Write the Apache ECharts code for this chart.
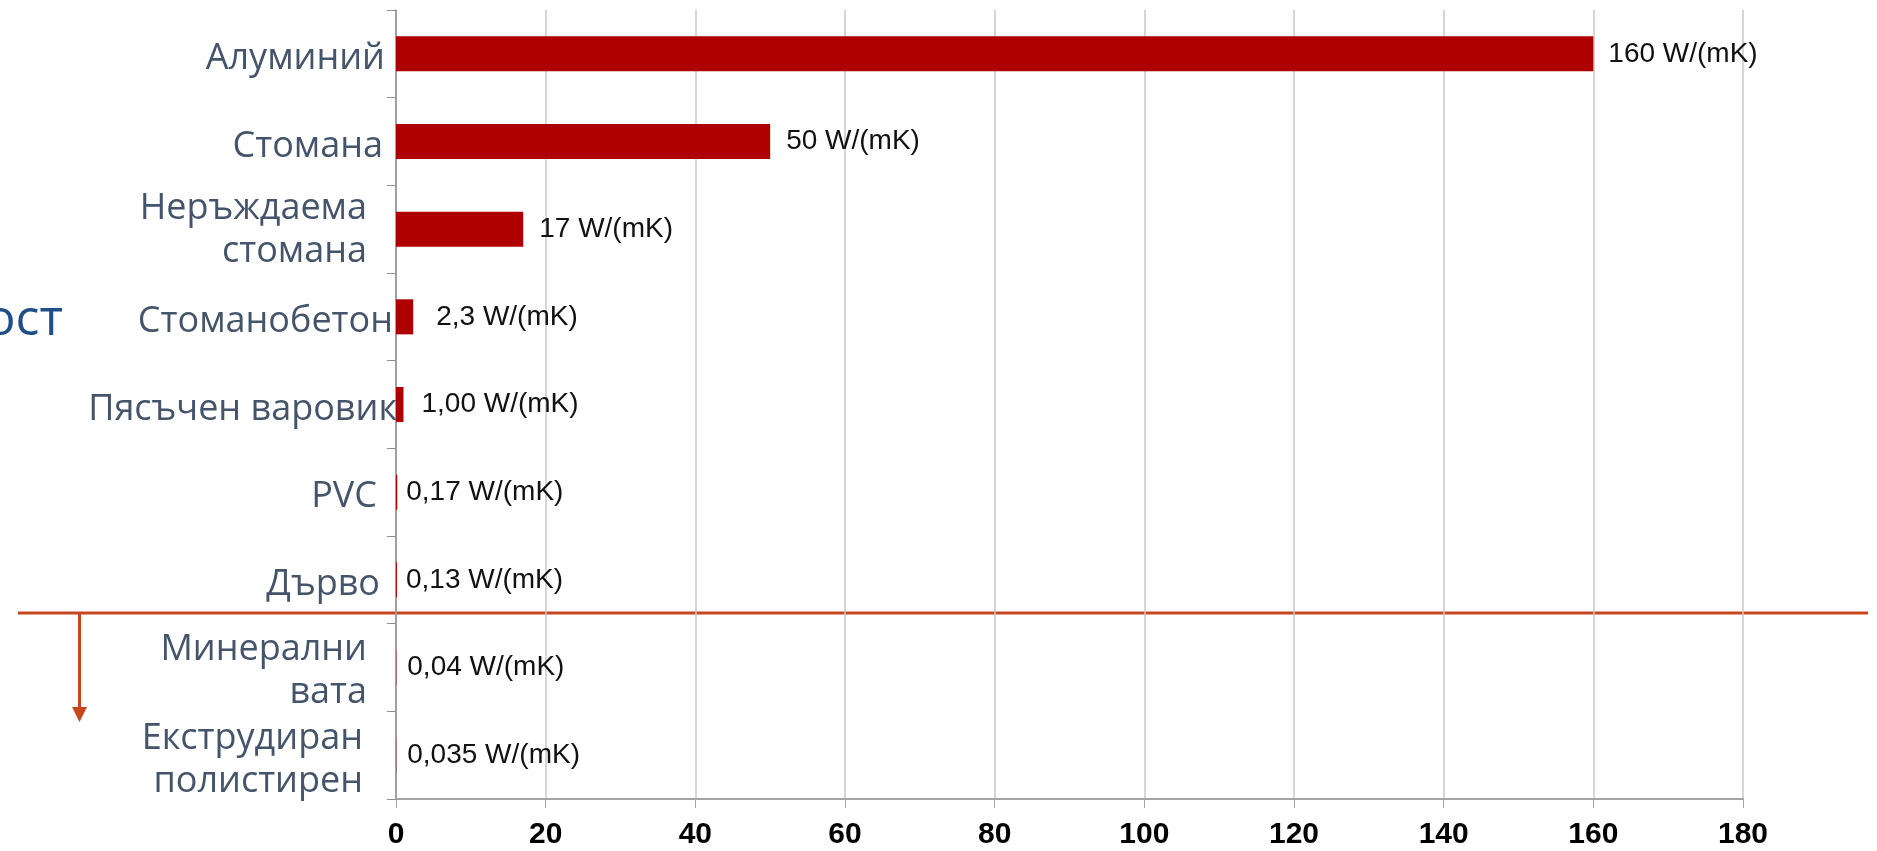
<!DOCTYPE html>
<html>
<head>
<meta charset="utf-8">
<title>Топлопроводимост</title>
<script src="https://cdn.jsdelivr.net/npm/echarts@6/dist/echarts.min.js"></script>
<style>
  html, body { margin: 0; padding: 0; background: #ffffff; }
  #chart { width: 1877px; height: 851px; }
</style>
</head>
<body>
<div id="chart"></div>
<script>
// Materials, top to bottom
const materials = [
  'Алуминий',
  'Стомана',
  'Неръждаема\nстомана',
  'Стоманобетон',
  'Пясъчен варовик',
  'PVC',
  'Дърво',
  'Минерални\nвата',
  'Екструдиран\nполистирен'
];

// Thermal conductivity, W/(mK)
const conductivity = [160, 50, 17, 2.3, 1.0, 0.17, 0.13, 0.04, 0.035];

// Value labels as printed next to the bars
const valueLabels = [
  '160 W/(mK)', '50 W/(mK)', '17 W/(mK)', '2,3 W/(mK)', '1,00 W/(mK)',
  '0,17 W/(mK)', '0,13 W/(mK)', '0,04 W/(mK)', '0,035 W/(mK)'
];

// Value axis ticks
const axisMin = 0;
const axisMax = 180;
const axisStep = 20;

// Per-row layout tweaks for category labels: downward nudge and right inset (px)
const categoryDrop = [5, 5, 1, 5, 5, 5, 5, 4, 5];
const categoryInset = [12, 14, 30, 4, 0, 20, 17, 30, 34];
// Gap between each bar end and its value label
const valueGap = [15, 16, 16, 23, 18, 9, 9, 11, 11];

const chart = echarts.init(document.getElementById('chart'), null, { renderer: 'canvas' });

const accent = '#C8461E';

// An invisible spacer line above each label pushes the text down by half its height
const spacerRich = {};
categoryDrop.forEach((d, i) => {
  spacerRich['g' + i] = { lineHeight: d * 2, fontSize: 1, color: 'rgba(0,0,0,0)' };
});

chart.setOption({
  animation: false,
  backgroundColor: '#ffffff',
  grid: { left: 396, right: 134, top: 10, bottom: 52, containLabel: false },
  xAxis: {
    type: 'value',
    min: axisMin,
    max: axisMax,
    interval: axisStep,
    axisLine: { show: true, lineStyle: { color: '#a3a3a3', width: 2 } },
    axisTick: { show: true, length: 9, lineStyle: { color: '#a3a3a3', width: 1 } },
    axisLabel: {
      margin: 21,
      fontFamily: 'Liberation Sans, Arial, sans-serif',
      fontWeight: 'bold',
      fontSize: 30,
      color: '#000000'
    },
    splitLine: { show: true, lineStyle: { color: '#c9c9c9', width: 1.5 } }
  },
  yAxis: {
    type: 'category',
    inverse: true,
    data: materials.map((m, i) => ({
      value: m,
      textStyle: { padding: [0, categoryInset[i], 0, 0] }
    })),
    axisLine: { show: true, onZero: false, lineStyle: { color: '#8e8e8e', width: 1.5 } },
    axisTick: { show: true, length: 9, interval: 0, lineStyle: { color: '#8e8e8e', width: 1 } },
    axisLabel: {
      interval: 0,
      margin: -1,
      fontFamily: 'Open Sans, Noto Sans, sans-serif',
      fontSize: 36,
      lineHeight: 43,
      color: '#44546A',
      align: 'right',
      formatter: (value, index) => '{g' + index + '| }\n' + value,
      rich: spacerRich
    },
    splitLine: { show: false }
  },
  series: [{
    type: 'bar',
    barWidth: '40%',
    data: conductivity.map((v, i) => ({
      value: v,
      label: { distance: valueGap[i] }
    })),
    itemStyle: { color: '#AE0000' },
    label: {
      show: true,
      position: 'right',
      formatter: p => valueLabels[p.dataIndex],
      fontFamily: 'Liberation Sans, Arial, sans-serif',
      fontSize: 28,
      color: '#111111'
    }
  }],
  graphic: [
    {
      type: 'text',
      style: {
        x: 63, y: 321,
        text: 'ост',
        textAlign: 'right',
        textVerticalAlign: 'middle',
        font: '50px "Open Sans", "Noto Sans", sans-serif',
        fill: '#1F4E89'
      }
    },
    {
      type: 'line',
      shape: { x1: 18, y1: 613, x2: 1868, y2: 613 },
      style: { stroke: accent, lineWidth: 3 }
    },
    {
      type: 'line',
      shape: { x1: 79.5, y1: 613, x2: 79.5, y2: 708 },
      style: { stroke: accent, lineWidth: 3 }
    },
    {
      type: 'polygon',
      shape: { points: [[72, 707], [87, 707], [79.5, 722]] },
      style: { fill: accent }
    }
  ]
});
</script>
</body>
</html>
